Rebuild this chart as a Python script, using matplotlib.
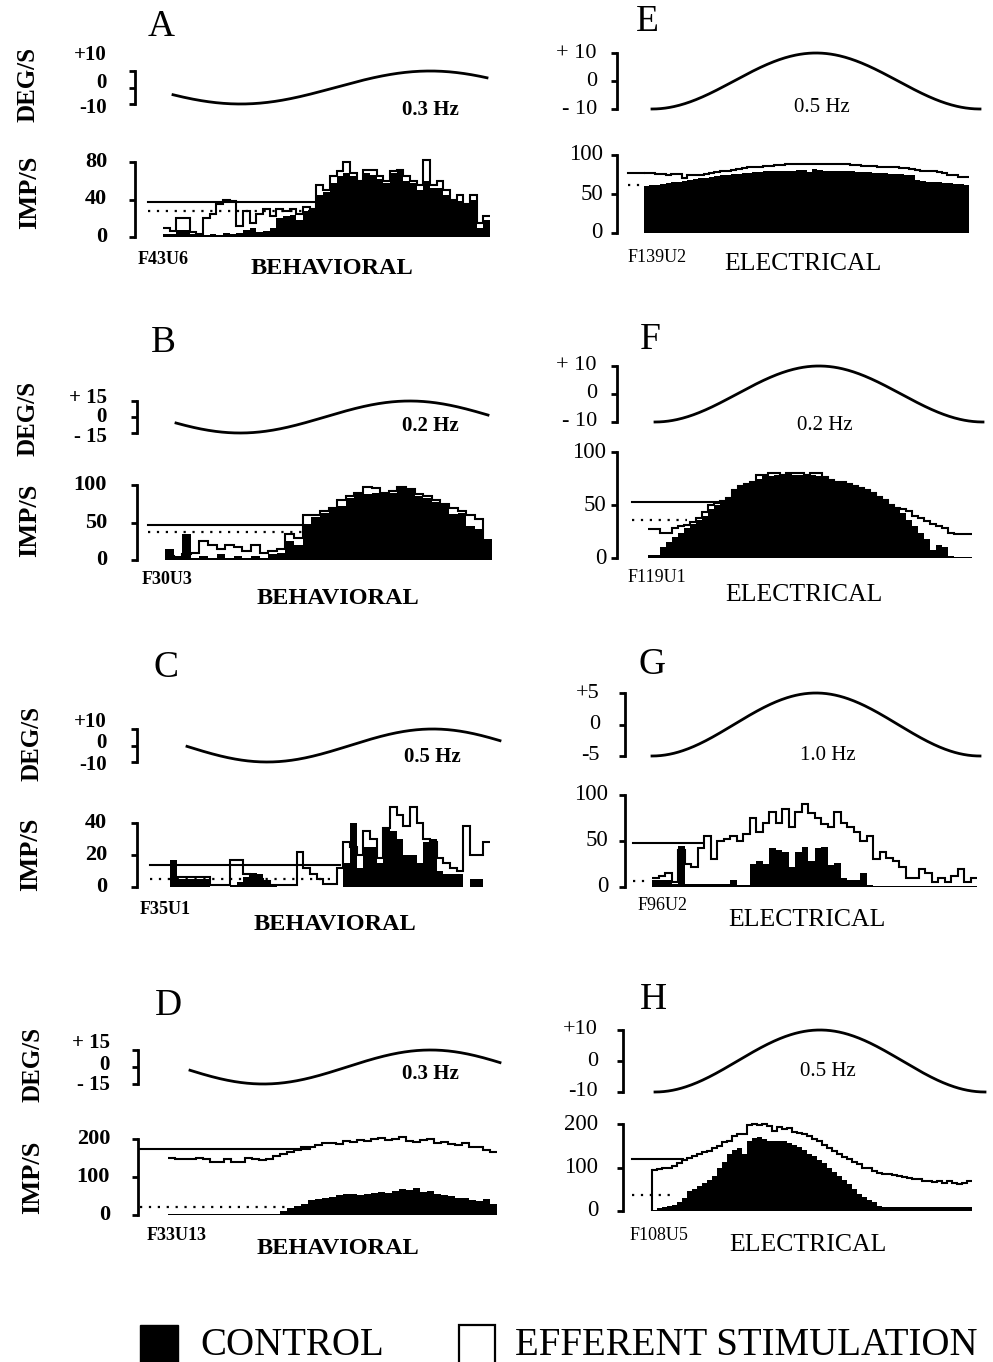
import numpy as np
import matplotlib.pyplot as plt
from matplotlib.patches import Rectangle
from matplotlib import transforms

plt.rcParams['font.family'] = ['Liberation Serif', 'DejaVu Serif']

# ---- histogram data (imp/s per bin over one stimulus cycle) ----
a_control = [3, 3, 8, 8, 3, 2, 2, 3, 2, 4, 3, 4, 8, 10, 5, 6, 10, 20, 22, 24, 18, 28, 30, 45, 48,
             58, 65, 68, 65, 60, 68, 66, 62, 58, 68, 70, 60, 58, 50, 60, 52, 52, 45, 38, 38, 35, 40, 10, 18]
a_efferent = [10, 6, 20, 20, 5, 3, 20, 25, 35, 40, 38, 12, 28, 15, 25, 30, 22, 30, 28, 30, 25, 32, 30, 55, 50,
              65, 70, 80, 68, 60, 72, 72, 65, 60, 70, 72, 65, 60, 55, 82, 55, 60, 50, 40, 45, 35, 45, 15, 22]

b_control = [15, 5, 35, 3, 5, 3, 8, 3, 5, 3, 5, 3, 8, 10, 25, 20, 48, 58, 63, 68, 72, 83, 88, 88, 90,
             88, 90, 96, 93, 86, 83, 78, 73, 62, 63, 45, 42, 28]
b_efferent = [5, 3, 8, 10, 25, 20, 15, 20, 18, 12, 20, 10, 12, 15, 35, 30, 60, 60, 65, 70, 80, 85, 90, 98, 96,
              90, 92, 98, 95, 88, 85, 80, 75, 70, 65, 60, 55, 25]

c_control = [17, 5, 5, 5, 5, 5, 0, 0, 0, 1, 3, 6, 9, 8, 4, 1, 0, 0, 0, 0, 0, 0, 0, 0, 0,
             0, 15, 40, 12, 25, 25, 15, 36, 35, 30, 20, 20, 15, 28, 30, 10, 8, 8, 8, 0, 5, 5, 0]
c_efferent = [2, 6, 6, 6, 6, 6, 1, 1, 1, 17, 17, 8, 5, 5, 4, 1, 1, 1, 1, 22, 12, 8, 5, 2, 2,
              12, 28, 25, 20, 35, 30, 18, 37, 50, 45, 38, 50, 40, 30, 28, 18, 15, 12, 10, 38, 20, 20, 28]

d_control = [3, 3, 3, 3, 3, 3, 3, 3, 3, 3, 3, 3, 3, 3, 3, 3, 10, 18, 25, 28, 40, 42, 45, 48,
             52, 55, 55, 52, 55, 58, 60, 58, 62, 68, 65, 72, 60, 62, 55, 52, 50, 45, 45, 40, 38, 42, 30]
d_efferent = [150, 148, 148, 148, 150, 148, 140, 140, 148, 140, 140, 150, 148, 145, 148, 155,
              160, 165, 170, 178, 180, 185, 190, 190, 188, 195, 192, 198, 195, 200, 202, 198,
              200, 205, 195, 193, 198, 200, 190, 192, 188, 185, 190, 180, 178, 172, 165]

e_control = [60, 61, 62, 63, 64, 65, 66, 67, 68, 69, 70, 71, 72, 73, 74, 75, 76, 76, 77, 77,
             78, 78, 79, 79, 80, 80, 80, 80, 81, 81, 78, 82, 81, 80, 80, 80, 79, 79, 79, 78,
             78, 78, 77, 77, 77, 76, 76, 76, 75, 75, 68, 67, 66, 65, 65, 64, 64, 63, 63, 62]
e_efferent = [77, 77, 76, 76, 75, 76, 76, 70, 75, 74, 75, 76, 77, 78, 79, 80, 81, 82, 83, 84,
              85, 85, 86, 86, 87, 87, 88, 88, 88, 88, 89, 89, 88, 89, 89, 89, 88, 88, 87, 87,
              86, 86, 86, 85, 85, 84, 84, 83, 83, 82, 81, 80, 80, 79, 78, 77, 75, 74, 72, 72]

f_control = [3, 3, 10, 15, 20, 24, 28, 32, 36, 40, 46, 50, 53, 57, 64, 68, 70, 72, 75, 77,
             77, 78, 78, 79, 78, 78, 78, 78, 77, 76, 74, 72, 72, 70, 68, 66, 64, 61, 58, 55,
             50, 46, 42, 36, 30, 24, 18, 8, 12, 10, 2, 1, 1, 1]
f_efferent = [27, 27, 24, 24, 28, 30, 31, 34, 38, 43, 50, 52, 54, 57, 64, 68, 70, 72, 78, 78,
              80, 80, 78, 80, 80, 80, 78, 80, 80, 76, 74, 72, 72, 70, 68, 66, 64, 61, 58, 55,
              50, 47, 46, 44, 40, 38, 35, 32, 30, 28, 24, 23, 23, 23]

g_control = [8, 8, 8, 3, 45, 3, 3, 3, 3, 3, 3, 3, 8, 2, 2, 25, 28, 25, 42, 40,
             38, 22, 38, 44, 28, 42, 44, 24, 26, 10, 8, 8, 15, 2, 1, 1, 1, 1, 1, 1,
             1, 1, 1, 1, 1, 1, 1, 1, 1, 1]
g_efferent = [10, 12, 15, 5, 40, 25, 22, 42, 55, 30, 50, 52, 55, 50, 58, 75, 60, 70, 82, 70,
              85, 65, 82, 90, 80, 75, 68, 65, 82, 70, 65, 60, 50, 55, 30, 38, 32, 28, 22, 10,
              10, 20, 15, 5, 10, 5, 12, 20, 5, 10]

h_control = [2, 8, 10, 12, 13, 20, 30, 45, 50, 58, 65, 72, 80, 100, 112, 130, 140, 145, 130, 160,
             168, 170, 165, 162, 162, 162, 160, 156, 152, 148, 140, 132, 126, 118, 110, 100, 90, 80, 72, 62,
             50, 40, 32, 25, 20, 12, 10, 10, 10, 10, 10, 10, 10, 10, 10, 10, 10, 10, 10, 10, 10, 10, 10, 10]
h_efferent = [94, 96, 98, 100, 104, 110, 118, 122, 126, 130, 135, 138, 145, 150, 158, 162, 172, 178, 178, 198,
              200, 198, 200, 196, 185, 192, 188, 190, 182, 180, 176, 172, 166, 160, 152, 145, 138, 130, 125, 120,
              112, 108, 100, 98, 92, 88, 86, 84, 82, 80, 78, 76, 74, 74, 70, 70, 66, 68, 65, 68, 64, 62, 64, 68]

controls = [a_control, b_control, c_control, d_control, e_control, f_control, g_control, h_control]
efferents = [a_efferent, b_efferent, c_efferent, d_efferent, e_efferent, f_efferent, g_efferent, h_efferent]

# resting discharge: with efferent stimulation (solid) and control (dotted)
rest_efferent = [37, 47, 14, 175, 77, 53, 48, 120]
rest_control = [28, 38, 5, 22, 62, 36, 6, 36]

letters = ['A', 'B', 'C', 'D', 'E', 'F', 'G', 'H']
units = ['F43U6', 'F30U3', 'F35U1', 'F33U13', 'F139U2', 'F119U1', 'F96U2', 'F108U5']
conditions = ['BEHAVIORAL'] * 4 + ['ELECTRICAL'] * 4
freqs = ['0.3 Hz', '0.2 Hz', '0.5 Hz', '0.3 Hz', '0.5 Hz', '0.2 Hz', '1.0 Hz', '0.5 Hz']
deg_scale = [10, 15, 10, 15, 10, 10, 5, 10]
deg_labels = [['-10', '0', '+10'], ['- 15', '0', '+ 15'], ['-10', '0', '+10'], ['- 15', '0', '+ 15'],
              ['- 10', '0', '+ 10'], ['- 10', '0', '+ 10'], ['-5', '0', '+5'], ['-10', '0', '+10']]
imp_scale = [80, 100, 40, 200, 100, 100, 100, 200]
# stimulus phase (deg) at the two ends of the velocity trace
phase_start = [206, 202, 183, 191, -90, -90, -90, -90]
phase_end = [504, 533, 523, 525, 270, 270, 270, 270]

# ---- layout, in pixels from the top-left corner ----
layout = [
    dict(spine=135, hist=(162, 237), bars=(163, 490), bracket=(71, 104), trace=(173, 487),
         letter=(161, 27), unit=(138, 260), cond=(332, 268), freq=(430, 110),
         deg=(28, 84), imp=(30, 192), deg_ys=(108, 83, 55), lab_x=107,
         solid=(148, 315), dotted=(148, 315)),
    dict(spine=137, hist=(485, 560), bars=(165, 492), bracket=(401, 433), trace=(176, 488),
         letter=(163, 343), unit=(142, 580), cond=(338, 599), freq=(430, 426),
         deg=(28, 418), imp=(30, 520), deg_ys=(437, 417, 398), lab_x=107,
         solid=(148, 305), dotted=(148, 305)),
    dict(spine=137, hist=(823, 887), bars=(170, 490), bracket=(729, 762), trace=(187, 500),
         letter=(166, 668), unit=(140, 910), cond=(335, 925), freq=(432, 757),
         deg=(32, 743), imp=(31, 854), deg_ys=(765, 743, 722), lab_x=107,
         solid=(150, 340), dotted=(150, 333)),
    dict(spine=138, hist=(1139, 1215), bars=(168, 497), bracket=(1050, 1084), trace=(190, 500),
         letter=(168, 1006), unit=(147, 1236), cond=(338, 1248), freq=(430, 1074),
         deg=(33, 1064), imp=(33, 1177), deg_ys=(1085, 1065, 1043), lab_x=110,
         solid=(140, 310), dotted=(140, 290)),
    dict(spine=617, hist=(155, 233), bars=(644, 969), bracket=(53, 109), trace=(652, 980),
         letter=(647, 22), unit=(628, 258), cond=(803, 264), freq=(822, 108),
         sine_lab_x=597, lab_x=603, solid=(628, 644), dotted=(628, 644)),
    dict(spine=617, hist=(452, 558), bars=(648, 972), bracket=(366, 422), trace=(655, 983),
         letter=(650, 340), unit=(628, 578), cond=(804, 595), freq=(825, 425),
         sine_lab_x=597, lab_x=606, solid=(632, 730), dotted=(632, 687)),
    dict(spine=625, hist=(795, 887), bars=(652, 977), bracket=(693, 756), trace=(652, 980),
         letter=(652, 665), unit=(638, 906), cond=(807, 920), freq=(828, 755),
         sine_lab_x=600, lab_x=608, solid=(633, 703), dotted=(633, 650)),
    dict(spine=623, hist=(1124, 1211), bars=(652, 972), bracket=(1030, 1092), trace=(655, 985),
         letter=(653, 1000), unit=(630, 1236), cond=(808, 1245), freq=(828, 1072),
         sine_lab_x=598, lab_x=598, solid=(632, 683), dotted=(632, 673), lead_edge=True),
]

W, H = 993, 1362
fig = plt.figure(figsize=(W / 100, H / 100), dpi=100, facecolor='white')


def fbox(x0, y0, x1, y1):
    return [x0 / W, 1 - y1 / H, (x1 - x0) / W, (y1 - y0) / H]


def ptext(x, y, s, **kw):
    fig.text(x / W, 1 - y / H, s, **kw)


def bracket_axis(ax, lo, hi):
    for s in ('top', 'right', 'bottom'):
        ax.spines[s].set_visible(False)
    ax.spines['left'].set_linewidth(2.0)
    ax.spines['left'].set_bounds(lo, hi)
    ax.set_xticks([])
    ax.set_yticks([lo, (lo + hi) / 2, hi])
    ax.tick_params(axis='y', direction='out', length=4, width=2.0, labelleft=False)
    ax.patch.set_visible(False)


for i, L in enumerate(layout):
    left_col = i < 4
    weight = 'bold' if left_col else 'normal'
    ctl = np.array(controls[i], dtype=float)
    eff = np.array(efferents[i], dtype=float)
    n = len(ctl)
    bx0, bx1 = L['bars']
    bw = (bx1 - bx0) / n
    right = max(bx1, L['trace'][1]) + 6

    def to_data(px):
        return (px - bx0) / bw

    xlim = (to_data(L['spine']), to_data(right))

    # rate histogram: control filled, efferent stimulation as open outline
    top, bot = L['hist']
    ax = fig.add_axes(fbox(L['spine'], top, right, bot))
    ax.set_xlim(*xlim)
    ax.set_ylim(0, imp_scale[i])
    edges = np.arange(n + 1)
    ax.stairs(ctl, edges, fill=True, color='black', lw=0, clip_on=False)
    ax.stairs(eff, edges, baseline=None, color='black', lw=1.5, clip_on=False)
    if L.get('lead_edge'):
        ax.plot([0, 0], [0, eff[0]], color='black', lw=1.5)
    ax.plot([to_data(L['solid'][0]), to_data(L['solid'][1])], [rest_efferent[i]] * 2,
            color='black', lw=1.5, clip_on=False)
    ax.plot([to_data(L['dotted'][0]), to_data(L['dotted'][1])], [rest_control[i]] * 2,
            color='black', lw=1.6, ls=(0, (1, 3)), clip_on=False)
    bracket_axis(ax, 0, imp_scale[i])
    tr = transforms.blended_transform_factory(fig.transFigure, ax.transData)
    for v in (0, imp_scale[i] // 2, imp_scale[i]):
        ax.text(L['lab_x'] / W, v, str(v), transform=tr, ha='right', va='center',
                fontsize=16 if left_col else 16.5, fontweight=weight)

    # stimulus velocity trace
    bt, bb = L['bracket']
    sa = fig.add_axes(fbox(L['spine'], bt, right, bb))
    sa.set_xlim(*xlim)
    amp = deg_scale[i]
    sa.set_ylim(-amp, amp)
    ph = np.radians(np.linspace(phase_start[i], phase_end[i], 300))
    tx = np.linspace(to_data(L['trace'][0]), to_data(L['trace'][1]), 300)
    sa.plot(tx, amp * np.sin(ph), color='black', lw=2.0, clip_on=False)
    bracket_axis(sa, -amp, amp)
    if left_col:
        for lab, y in zip(deg_labels[i], L['deg_ys']):
            ptext(L['lab_x'], y, lab, ha='right', va='center', fontsize=15, fontweight='bold')
        ptext(*L['deg'], 'DEG/S', rotation=90, ha='center', va='center', fontsize=18, fontweight='bold')
        ptext(*L['imp'], 'IMP/S', rotation=90, ha='center', va='center', fontsize=19, fontweight='bold')
    else:
        st = transforms.blended_transform_factory(fig.transFigure, sa.transData)
        for lab, v in zip(deg_labels[i], (-amp, 0, amp)):
            sa.text(L['sine_lab_x'] / W, v, lab, transform=st, ha='right', va='center', fontsize=16)

    ptext(*L['letter'], letters[i], ha='center', va='center', fontsize=27)
    ptext(*L['unit'], units[i], ha='left', va='center', fontsize=13, fontweight=weight)
    ptext(*L['cond'], conditions[i], ha='center', va='center',
          fontsize=17.5 if left_col else 18.5, fontweight=weight)
    ptext(*L['freq'], freqs[i], ha='center', va='center', fontsize=15, fontweight=weight)

# legend
fig.add_artist(Rectangle((140 / W, 1 - 1362 / H), 38 / W, 37 / H, transform=fig.transFigure,
                         facecolor='black', edgecolor='black'))
fig.add_artist(Rectangle((459 / W, 1 - 1372 / H), 36 / W, 47 / H, transform=fig.transFigure,
                         facecolor='none', edgecolor='black', lw=1.6))
ptext(200, 1355, 'CONTROL', ha='left', va='baseline', fontsize=28)
ptext(515, 1355, 'EFFERENT STIMULATION', ha='left', va='baseline', fontsize=28)

fig.savefig('out.png', dpi=100, facecolor='white')
